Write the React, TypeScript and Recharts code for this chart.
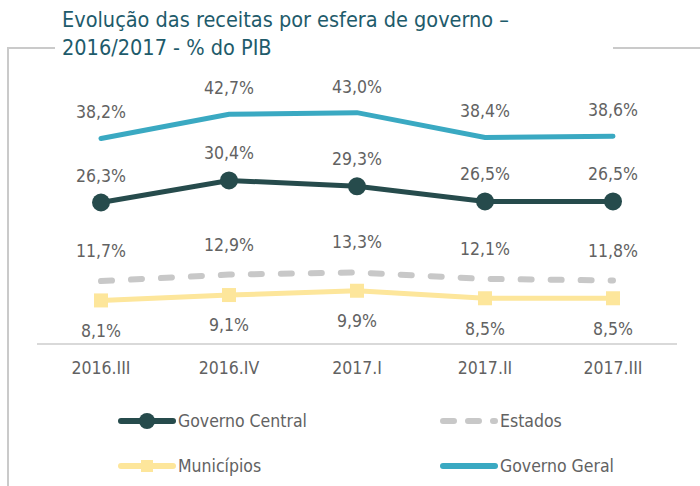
import { LineChart, Line, XAxis, YAxis, LabelList } from "recharts"

const quarters = ["2016.III", "2016.IV", "2017.I", "2017.II", "2017.III"]
const governoCentral = [26.3, 30.4, 29.3, 26.5, 26.5]
const estados = [11.7, 12.9, 13.3, 12.1, 11.8]
const municipios = [8.1, 9.1, 9.9, 8.5, 8.5]
const governoGeral = [38.2, 42.7, 43.0, 38.4, 38.6]

const data = quarters.map((q, i) => ({
    name: q,
    central: governoCentral[i],
    estados: estados[i],
    municipios: municipios[i],
    geral: governoGeral[i],
}))

const FONT = '"DejaVu Sans Condensed", "Liberation Sans Narrow", sans-serif'
const GRAY_TEXT = "#626262"
const C_CENTRAL = "#264b4c"
const C_ESTADOS = "#c8c8c8"
const C_MUNIC = "#fde69b"
const C_GERAL = "#3aa9c2"
const FRAME = "#cacaca"

const fmt = (v: any) => Number(v).toFixed(1).replace(".", ",") + "%"

const SquareDot = (props: any) => {
    const { cx, cy } = props
    if (cx == null || cy == null) return null
    return <rect x={cx - 7} y={cy - 7} width={14} height={14} fill={C_MUNIC} />
}

const labelStyle = { fill: GRAY_TEXT, fontSize: 17.5, fontFamily: FONT }

const legendItems = [
    { label: "Governo Central", color: C_CENTRAL, kind: "circle", x: 118, y: 421 },
    { label: "Estados", color: C_ESTADOS, kind: "dash", x: 440, y: 421 },
    { label: "Municípios", color: C_MUNIC, kind: "square", x: 118, y: 466 },
    { label: "Governo Geral", color: C_GERAL, kind: "line", x: 440, y: 466 },
]

const LegendIcon = ({ color, kind }: { color: string; kind: string }) => (
    <svg width={58} height={20} style={{ display: "block" }}>
        {kind === "dash" ? (
            <line x1={3} y1={10} x2={55} y2={10} stroke={color} strokeWidth={6} strokeLinecap="round" strokeDasharray="11 14" />
        ) : (
            <line x1={3} y1={10} x2={55} y2={10} stroke={color} strokeWidth={6} strokeLinecap="round" />
        )}
        {kind === "circle" && <circle cx={29} cy={10} r={8} fill={color} />}
        {kind === "square" && <rect x={23} y={4} width={12} height={12} fill={color} />}
    </svg>
)

const App = () => {
    return (
        <div style={{ position: "absolute", left: 0, top: 0, width: 700, height: 486, background: "#fff", fontFamily: FONT }}>
            {/* frame */}
            <div style={{ position: "absolute", left: 7, top: 47, width: 2, height: 439, background: FRAME }} />
            <div style={{ position: "absolute", left: 7, top: 47, width: 48, height: 2, background: FRAME }} />
            <div style={{ position: "absolute", left: 613, top: 47, width: 87, height: 2, background: FRAME }} />

            <div style={{ position: "absolute", left: 62, top: 6, fontSize: 21.5, lineHeight: "28px", color: "#1e5b6b" }}>
                Evolução das receitas por esfera de governo –<br />
                2016/2017 - % do PIB
            </div>

            <div style={{ position: "absolute", left: 0, top: 0 }}>
                <LineChart width={700} height={400} data={data} margin={{ top: 75, right: 23, left: 37, bottom: 26 }}>
                    <XAxis
                        dataKey="name"
                        padding={{ left: 64, right: 64 }}
                        axisLine={{ stroke: "#d9d9d9", strokeWidth: 2 }}
                        tickLine={false}
                        tickSize={0}
                        tickMargin={18}
                        height={30}
                        tick={{ fill: GRAY_TEXT, fontSize: 17.5, fontFamily: FONT }}
                    />
                    <YAxis hide domain={[0, 50]} />
                    <Line dataKey="geral" stroke={C_GERAL} strokeWidth={5} strokeLinecap="round" dot={false} isAnimationActive={false}>
                        <LabelList dataKey="geral" position="top" offset={20} formatter={fmt} style={labelStyle} />
                    </Line>
                    <Line dataKey="central" stroke={C_CENTRAL} strokeWidth={5} dot={{ r: 9, fill: C_CENTRAL, stroke: "none" }} isAnimationActive={false}>
                        <LabelList dataKey="central" position="top" offset={21} formatter={fmt} style={labelStyle} />
                    </Line>
                    <Line dataKey="estados" stroke={C_ESTADOS} strokeWidth={6} strokeDasharray="11 19" strokeLinecap="round" dot={false} isAnimationActive={false}>
                        <LabelList dataKey="estados" position="top" offset={24} formatter={fmt} style={labelStyle} />
                    </Line>
                    <Line dataKey="municipios" stroke={C_MUNIC} strokeWidth={5} dot={<SquareDot />} isAnimationActive={false}>
                        <LabelList dataKey="municipios" position="bottom" offset={24} formatter={fmt} style={labelStyle} />
                    </Line>
                </LineChart>
            </div>

            {legendItems.map((it) => (
                <div key={it.label} style={{ position: "absolute", left: it.x, top: it.y - 12, height: 24, display: "flex", alignItems: "center" }}>
                    <LegendIcon color={it.color} kind={it.kind} />
                    <span style={{ fontSize: 17.5, color: GRAY_TEXT, marginLeft: 2 }}>{it.label}</span>
                </div>
            ))}
        </div>
    )
}

export default App
